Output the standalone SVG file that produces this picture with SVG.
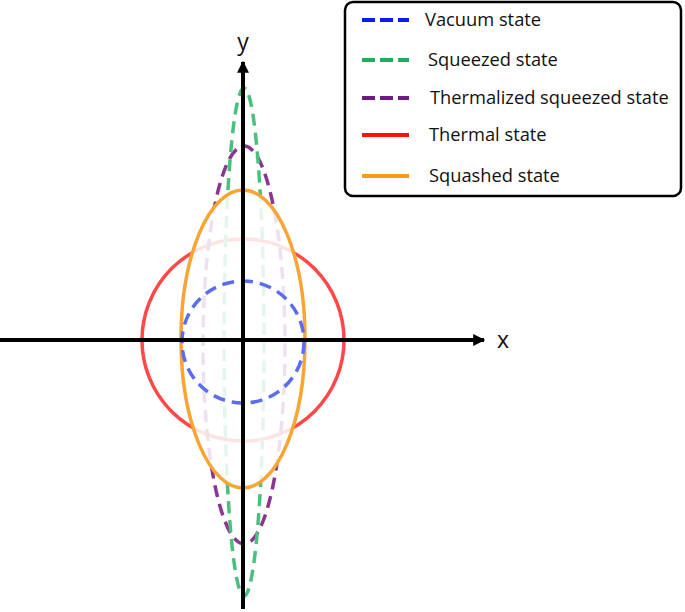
<svg xmlns="http://www.w3.org/2000/svg" width="685" height="612" viewBox="0 0 685 612">
<style>
.curve{fill:none;stroke-width:3.5}
.dash{stroke-dasharray:12 7}
.lg{stroke-width:4;fill:none}
.lgd{stroke-dasharray:13 5}
.lbl{font-family:"Open Sans","Liberation Sans",sans-serif;font-size:18.3px;fill:#111}
.ax{font-family:"Open Sans","Liberation Sans",sans-serif;font-size:23px;fill:#111}
</style>
<defs>
<marker id="arr" viewBox="0 0 10 10" refX="9" refY="5" markerWidth="4" markerHeight="3" orient="auto" markerUnits="strokeWidth">
<path d="M0,0 L10,5 L0,10 z" fill="#000"/>
</marker>
</defs>
<rect width="685" height="612" fill="#fff"/>
<g id="thermal"><circle class="curve" cx="243" cy="340" r="101" stroke="#ff4848"/></g>
<g id="thermalized-squeezed"><ellipse class="curve dash" cx="244" cy="345" rx="41" ry="199" stroke="#8a3592"/></g>
<g id="squeezed"><ellipse class="curve dash" cx="244" cy="342" rx="20" ry="254" stroke="#4cbf7e"/></g>
<g id="squashed"><ellipse cx="243" cy="339" rx="62" ry="149" fill="#fff" fill-opacity="0.85" stroke="#f8a535" stroke-width="3.5"/></g>
<g id="vacuum"><circle class="curve dash" cx="243" cy="342" r="61" stroke="#5b6cf0" stroke-dasharray="10 6"/></g>
<g id="connectors">
<line x1="0" y1="340" x2="484" y2="340" stroke="#000" stroke-width="4" marker-end="url(#arr)"/>
<line x1="243" y1="609" x2="243" y2="62" stroke="#000" stroke-width="4" marker-end="url(#arr)"/>
</g>
<g id="axis-labels">
<text class="ax" x="503" y="348" text-anchor="middle">x</text>
<text class="ax" x="243" y="50" text-anchor="middle">y</text>
</g>
<g id="legend">
<rect x="345" y="2" width="336" height="194" rx="8" fill="#fff" stroke="#000" stroke-width="2.5"/>
<line class="lg lgd" x1="362" y1="20" x2="409" y2="20" stroke="#0a1cf0"/>
<text class="lbl" x="425" y="26">Vacuum state</text>
<line class="lg lgd" x1="362" y1="60" x2="409" y2="60" stroke="#1fae5a"/>
<text class="lbl" x="428" y="66">Squeezed state</text>
<line class="lg lgd" x1="362" y1="98" x2="409" y2="98" stroke="#6e1a80"/>
<text class="lbl" x="430" y="104">Thermalized squeezed state</text>
<line class="lg" x1="362" y1="135" x2="409" y2="135" stroke="#ff1010"/>
<text class="lbl" x="429" y="141">Thermal state</text>
<line class="lg" x1="362" y1="176" x2="409" y2="176" stroke="#f99a1a"/>
<text class="lbl" x="429" y="182">Squashed state</text>
</g>
</svg>
